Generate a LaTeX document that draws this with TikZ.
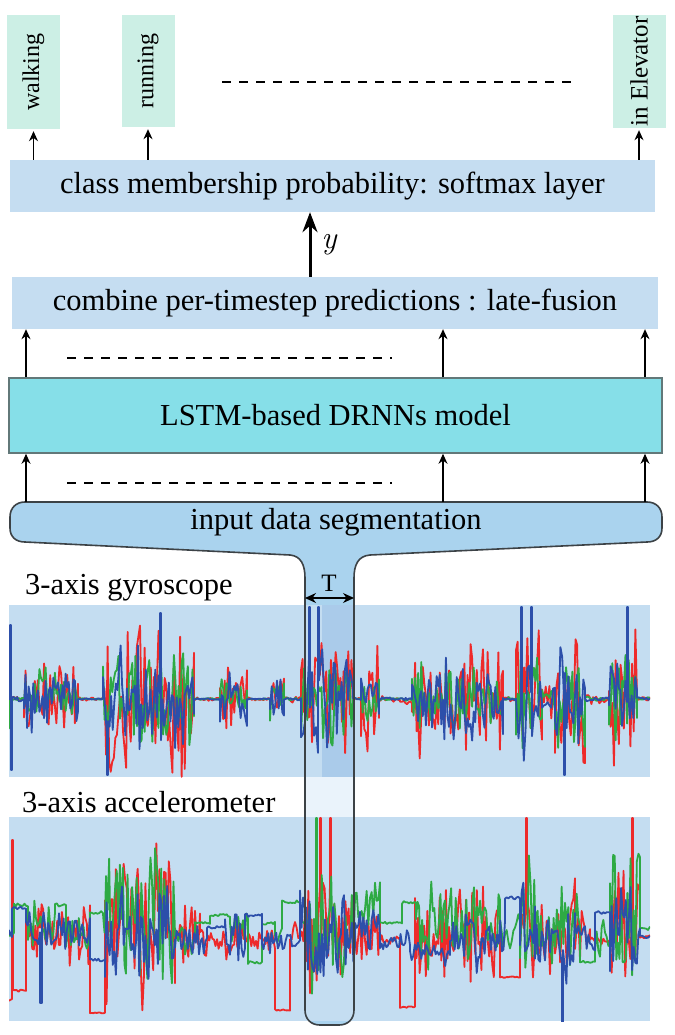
\documentclass[tikz,border=0pt]{standalone}
\usepackage{fontspec}
\setmainfont{Liberation Serif}
\newfontfamily\lmr{Latin Modern Roman}
\usetikzlibrary{arrows.meta}
\definecolor{mint}{HTML}{CCEFE5}
\definecolor{barc}{HTML}{C5DDF1}
\definecolor{lstmc}{HTML}{86DFE8}
\definecolor{lstmb}{HTML}{627879}
\definecolor{segc}{HTML}{AAD3EE}
\definecolor{segb}{HTML}{3C4246}
\definecolor{panelc}{HTML}{C4DDF1}
\definecolor{darkc}{HTML}{AACBEA}
\definecolor{lightc}{HTML}{EAF3FB}
\definecolor{sr}{HTML}{EE2A2A}
\definecolor{sg}{HTML}{2EAA44}
\definecolor{sb}{HTML}{2C4FAA}
\newcommand{\segpath}{(25,502) -- (647,502) .. controls (656,502) and (662,508) .. (662,517) -- (662,528) .. controls (662,537) and (656,542) .. (647,542) -- (370,555) .. controls (358,556) and (354,565) .. (354,578) -- (354,1010) .. controls (354,1019) and (348,1025) .. (339,1025) -- (320,1025) .. controls (311,1025) and (305,1019) .. (305,1010) -- (305,578) .. controls (305,565) and (301,556) .. (290,555) -- (25,542) .. controls (16,542) and (10,537) .. (10,528) -- (10,517) .. controls (10,508) and (16,502) .. (25,502) -- cycle}
\newcommand{\sigline}[3]{%
  \draw[#1, sigw] (9,#2) \foreach \xa/\xb/\lv/\am [evaluate=\xa as \ns using {int(max(2,(\xb-\xa)/1.5))}] in {#3} { -- plot[domain=\xa:\xb, samples=\ns] (\x,{\lv+\am*rand*(0.45+0.55*abs(rand))}) };%
}
\tikzset{
  lab/.style={fill=mint, rotate=90, inner sep=0pt, minimum height=53pt, font=\fontsize{24}{26}\selectfont},
  bar/.style={fill=barc, inner sep=0pt, font=\fontsize{30.5}{33}\selectfont},
  txt/.style={inner sep=0pt, font=\fontsize{30.5}{33}\selectfont},
  arr/.style={-{Stealth[length=10pt,width=9pt]}, line width=1.1pt},
  bigarr/.style={-{Stealth[length=20pt,width=15pt]}, line width=3pt},
  tarr/.style={{Stealth[length=11pt,width=10pt]}-{Stealth[length=11pt,width=10pt]}, line width=1.3pt},
  dashln/.style={line width=2.6pt, dash pattern=on 9pt off 8pt},
  sigw/.style={line width=1.8pt, line join=round}
}
\begin{document}
\begin{tikzpicture}[x=1pt,y=-1pt]
\useasboundingbox (0,0) rectangle (674,1035);
\pgfmathsetseed{4242}
% segmentation funnel fill
\fill[segc] \segpath;
% panels
\fill[panelc] (9,605) rectangle (650,777);
\fill[panelc] (9,817) rectangle (650,1021);
\fill[darkc] (322,605) rectangle (354,777);
\fill[lightc] (305,777) rectangle (354,817);
% gyroscope signals
\begin{scope}
\clip (9,605) rectangle (650,777);
\sigline{sr}{699}{9/10/699/1, 10/12/699/80, 12/24/699/3, 24/78/699/50, 78/103/699/2, 103/194/699/85, 194/220/699/2, 220/247/699/45, 247/270/699/2, 270/284/699/40, 284/301/699/4, 301/353/699/75, 353/361/699/3, 361/379/699/70, 379/400/699/4, 400/412/702/3, 412/503/699/65, 503/516/699/3, 516/542/699/80, 542/555/699/25, 555/585/699/80, 585/609/699/6, 609/637/699/80, 637/650/699/3}
\sigline{sg}{699}{9/10/699/1, 10/12/699/55, 12/24/699/2, 24/78/699/32, 78/103/699/1, 103/194/699/60, 194/220/699/1, 220/247/699/28, 247/270/699/1, 270/284/699/25, 284/301/699/2, 301/353/699/60, 353/361/699/2, 361/379/699/32, 379/412/699/2, 412/503/699/40, 503/516/699/2, 516/542/699/75, 542/555/699/14, 555/585/699/65, 585/609/699/3, 609/637/699/70, 637/650/699/2}
\sigline{sb}{699}{9/10/699/1, 10/11/625/0, 11/12/770/0, 12/24/699/3, 24/78/699/35, 78/103/699/1, 103/107/699/60, 107/108/775/0, 108/160/699/65, 160/161/613/0, 161/194/699/60, 194/220/699/1, 220/247/699/32, 247/270/699/1, 270/284/699/30, 284/301/699/2, 301/309/699/60, 309/310/607/0, 310/318/699/60, 318/319/607/0, 319/353/699/60, 353/361/699/2, 361/379/699/35, 379/412/699/2, 412/503/699/48, 503/516/699/2, 516/521/699/60, 521/522/607/0, 522/531/699/70, 531/532/607/0, 532/542/699/60, 542/555/699/14, 555/564/699/60, 564/565/775/0, 565/585/699/55, 585/609/699/3, 609/627/699/60, 627/628/607/0, 628/637/699/60, 637/650/699/2}
\end{scope}
% accelerometer signals
\begin{scope}
\clip (9,817) rectangle (650,1021);
\sigline{sr}{1000}{9/12/1000/3, 12/13/840/0, 13/26/990/2, 26/90/935/38, 90/105/1013/1, 105/175/925/95, 175/200/935/38, 200/245/942/25, 245/275/940/12, 275/290/1010/1, 290/305/935/30, 305/320/920/90, 320/321/818/0, 321/330/930/75, 330/331/818/0, 331/355/930/65, 355/380/935/42, 380/400/940/6, 400/415/1007/1, 415/500/935/55, 500/520/977/1, 520/526/920/75, 526/527/818/0, 527/535/930/75, 535/560/935/42, 560/575/925/80, 575/590/935/30, 590/610/940/6, 610/632/930/75, 632/633/818/0, 633/640/935/60, 640/650/937/2}
\sigline{sg}{935}{9/14/935/8, 14/28/905/2, 28/55/920/30, 55/66/905/2, 66/90/933/18, 90/103/913/2, 103/175/920/80, 175/195/940/18, 195/210/923/2, 210/230/915/2, 230/248/930/25, 248/262/963/2, 262/275/923/2, 275/282/935/14, 282/300/902/2, 300/308/923/3, 308/316/930/75, 316/317/818/0, 317/355/930/65, 355/380/905/30, 380/402/923/2, 402/416/902/2, 416/500/925/50, 500/520/935/25, 520/536/925/80, 536/560/930/42, 560/580/925/80, 580/595/962/2, 595/610/935/30, 610/640/925/80, 640/650/928/2}
\sigline{sb}{935}{9/12/935/5, 12/26/908/2, 26/40/930/30, 40/42/1003/0, 42/90/933/24, 90/105/960/2, 105/175/935/65, 175/207/940/18, 207/225/927/2, 225/245/935/30, 245/262/915/2, 262/300/942/14, 300/355/935/60, 355/380/930/24, 380/410/942/12, 410/450/953/14, 450/505/938/36, 505/520/898/2, 520/535/940/72, 535/555/940/30, 555/562/940/60, 562/563/1023/0, 563/575/940/60, 575/595/937/18, 595/610/913/2, 610/640/940/60, 640/650/937/2}
\end{scope}
% funnel outline
\draw[segb, line width=1.6pt] \segpath;
% nodes
\node[lab, minimum width=114pt] (walk) at (33.5,72) {walking};
\node[lab, minimum width=112pt] (run) at (148,71) {running};
\node[lab, minimum width=113pt, font=\fontsize{25}{27}\selectfont] (elev) at (639,71.5) {in Elevator};
\node[bar, minimum width=645pt, minimum height=52pt] (cls) at (332.5,186) {class membership probability: softmax layer};
\node[bar, minimum width=646pt, minimum height=52pt] (comb) at (335,303) {combine per-timestep predictions : late-fusion};
\node[txt, fill=lstmc, draw=lstmb, line width=1.6pt, minimum width=653pt, minimum height=75pt] (lstm) at (335.5,415.5) {LSTM-based DRNNs model};
\node[txt, minimum width=652pt, minimum height=40pt] (seg) at (336,522) {input data segmentation};
\node[txt, anchor=base west] (gyr) at (25,594) {3-axis gyroscope};
\node[txt, anchor=base west] (acc) at (22,812) {3-axis accelerometer};
\node[inner sep=0pt, font=\fontsize{25}{27}\selectfont] (T) at (329,583) {T};
\node[inner sep=0pt, font=\lmr\itshape\fontsize{32}{34}\selectfont] (ylab) at (329,245) {y};
% coordinates
\coordinate (k1) at (26,0);
\coordinate (k2) at (443,0);
\coordinate (k3) at (645,0);
\coordinate (ky) at (310,0);
\coordinate (tl) at (305,598);
\coordinate (tr) at (354,598);
% arrows
\draw[arr, shorten >=2pt] (cls.north -| walk.west) -- (walk.west);
\draw[arr, shorten >=2pt] (cls.north -| run.west) -- (run.west);
\draw[arr, shorten >=2pt] (cls.north -| elev.west) -- (elev.west);
\draw[bigarr] (comb.north -| ky) -- (cls.south -| ky);
\foreach \k in {k1,k2,k3}{
  \draw[arr] (lstm.north -| \k) -- (comb.south -| \k);
  \draw[arr] (seg.north -| \k) -- (lstm.south -| \k);
}
\draw[tarr] (tl) -- (tr);
% dashed separators
\draw[dashln] (222,82) -- (572,82);
\draw[dashln] (67,358) -- (392,358);
\draw[dashln] (67,483) -- (392,483);
\end{tikzpicture}
\end{document}
